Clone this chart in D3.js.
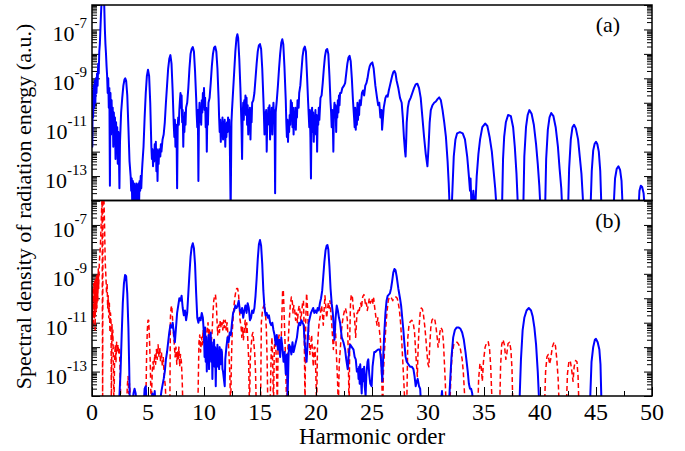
<!DOCTYPE html>
<html>
<head>
<meta charset="utf-8">
<script src="https://cdn.jsdelivr.net/npm/d3@7"></script>
<style>
  body { margin: 0; background: #fff; }
  text { font-family: "Liberation Serif", "Times New Roman", serif; fill: #000; }
</style>
</head>
<body>
<svg id="chart"></svg>
<script>
// Data: [harmonic order, log10(spectral density)]
// values at -14.5 / -5.5 mean the curve leaves the frame there

// panel (a), blue solid
const panelA = [
  [0.0,-9.6],[0.03,-11.8],[0.06,-9.5],[0.1,-10.6],[0.15,-9.3],[0.2,-10.2],[0.25,-9.1],[0.3,-10.0],[0.35,-9.0],[0.4,-9.6],[0.45,-8.8],[0.5,-9.3],
  [0.55,-8.4],[0.6,-8.8],[0.65,-7.9],[0.7,-7.6],[0.75,-7.0],[0.8,-6.4],[0.88,-5.6],[1.0,-5.5],[1.08,-5.8],[1.15,-7.0],[1.2,-7.6],[1.25,-8.0],
  [1.3,-8.5],[1.35,-8.9],[1.4,-9.6],[1.45,-9.0],[1.5,-10.2],[1.55,-9.4],[1.6,-13.4],[1.65,-9.6],[1.7,-11.3],[1.75,-9.9],[1.8,-10.9],[1.85,-10.2],
  [1.9,-11.8],[1.95,-10.4],[2.0,-11.2],[2.05,-10.6],[2.1,-12.3],[2.15,-10.8],[2.2,-11.6],[2.25,-11.0],[2.3,-12.5],[2.35,-11.2],[2.4,-12.0],[2.45,-13.5],
  [2.5,-11.6],[2.55,-11.0],[2.6,-10.4],[2.7,-9.8],[2.8,-9.3],[2.9,-9.05],[2.97,-9.0],[3.05,-9.1],[3.15,-9.7],[3.25,-11.0],[3.35,-12.4],[3.45,-13.0],
  [3.5,-13.6],[3.55,-13.1],[3.6,-14.3],[3.65,-13.2],[3.7,-13.8],[3.75,-13.3],[3.8,-14.5],[3.85,-13.4],[3.9,-13.9],[3.95,-13.3],[4.0,-14.4],[4.05,-13.4],
  [4.1,-13.8],[4.15,-13.3],[4.2,-14.2],[4.25,-13.2],[4.3,-13.6],[4.35,-13.0],[4.4,-13.5],[4.45,-12.9],[4.5,-12.5],[4.6,-11.8],[4.7,-10.6],[4.8,-9.6],
  [4.9,-8.9],[5.0,-8.65],[5.1,-8.9],[5.2,-10.0],[5.3,-11.8],[5.35,-12.3],[5.4,-11.9],[5.45,-12.6],[5.5,-12.0],[5.55,-12.4],[5.6,-11.7],[5.65,-12.2],
  [5.7,-11.6],[5.75,-12.8],[5.8,-11.9],[5.85,-13.2],[5.9,-12.0],[5.95,-12.5],[6.0,-11.9],[6.1,-12.2],[6.15,-11.7],[6.2,-12.0],[6.3,-11.5],[6.4,-11.3],
  [6.5,-10.8],[6.6,-10.0],[6.7,-9.3],[6.8,-8.6],[6.9,-8.2],[7.0,-8.05],[7.1,-8.4],[7.2,-9.5],[7.3,-10.9],[7.35,-11.4],[7.4,-10.7],[7.45,-11.8],
  [7.5,-10.9],[7.55,-11.3],[7.6,-13.5],[7.65,-11.0],[7.7,-10.6],[7.75,-10.9],[7.8,-10.3],[7.85,-9.9],[7.9,-9.6],[7.95,-10.2],[8.0,-9.7],[8.05,-10.8],
  [8.1,-10.3],[8.15,-11.8],[8.2,-10.6],[8.25,-11.2],[8.3,-10.4],[8.35,-10.9],[8.4,-10.2],[8.5,-10.0],[8.6,-9.4],[8.7,-8.6],[8.8,-8.0],[8.9,-7.8],
  [9.0,-7.72],[9.1,-7.9],[9.2,-8.7],[9.3,-9.8],[9.35,-10.5],[9.4,-11.0],[9.45,-10.3],[9.5,-13.2],[9.55,-10.6],[9.6,-10.0],[9.65,-10.8],[9.7,-10.2],
  [9.75,-10.9],[9.8,-9.9],[9.85,-10.4],[9.9,-9.6],[9.95,-10.1],[10.0,-9.4],[10.05,-10.3],[10.1,-9.8],[10.15,-11.0],[10.2,-10.2],[10.25,-12.0],[10.3,-10.4],
  [10.35,-10.9],[10.4,-10.0],[10.5,-9.8],[10.6,-9.2],[10.7,-8.5],[10.8,-8.0],[10.9,-7.75],[11.0,-7.7],[11.1,-7.9],[11.2,-8.6],[11.3,-9.8],[11.35,-10.6],
  [11.4,-11.2],[11.45,-10.7],[11.5,-11.6],[11.55,-10.9],[11.6,-11.3],[11.65,-10.6],[11.7,-11.5],[11.75,-10.8],[11.8,-11.2],[11.85,-10.7],[11.9,-11.8],[11.95,-10.9],
  [12.0,-11.4],[12.05,-10.8],[12.1,-11.2],[12.15,-10.6],[12.2,-11.0],[12.25,-10.7],[12.3,-11.5],[12.38,-14.5],[12.45,-10.8],[12.5,-10.3],[12.6,-9.5],[12.7,-8.7],
  [12.8,-7.9],[12.9,-7.35],[12.98,-7.2],[13.05,-7.35],[13.15,-8.2],[13.25,-9.4],[13.3,-10.2],[13.35,-11.0],[13.4,-12.3],[13.45,-10.6],[13.5,-10.0],[13.55,-10.7],
  [13.6,-9.9],[13.65,-10.4],[13.7,-9.7],[13.75,-10.5],[13.8,-9.8],[13.85,-10.9],[13.9,-10.1],[13.95,-11.3],[14.0,-10.3],[14.05,-10.8],[14.1,-10.2],[14.15,-11.5],
  [14.2,-10.4],[14.25,-10.8],[14.3,-10.0],[14.4,-9.9],[14.5,-9.6],[14.6,-9.0],[14.7,-8.4],[14.8,-7.9],[14.9,-7.65],[15.0,-7.6],[15.1,-7.8],[15.2,-8.6],
  [15.3,-9.8],[15.35,-10.5],[15.4,-11.3],[15.45,-10.4],[15.5,-11.0],[15.55,-10.3],[15.6,-12.0],[15.65,-10.5],[15.7,-10.9],[15.75,-10.2],[15.8,-10.7],[15.85,-10.1],
  [15.9,-11.5],[15.95,-10.4],[16.0,-10.8],[16.05,-10.2],[16.1,-11.3],[16.15,-10.5],[16.2,-10.0],[16.25,-10.6],[16.3,-10.3],[16.35,-13.7],[16.4,-10.4],[16.5,-9.9],
  [16.6,-9.3],[16.7,-8.6],[16.8,-8.0],[16.9,-7.55],[16.99,-7.4],[17.08,-7.6],[17.18,-8.5],[17.3,-9.9],[17.35,-10.8],[17.4,-11.4],[17.45,-10.7],[17.5,-11.6],
  [17.55,-10.9],[17.6,-11.2],[17.65,-10.5],[17.7,-10.9],[17.75,-9.9],[17.8,-10.6],[17.85,-10.0],[17.9,-11.0],[17.95,-10.2],[18.0,-11.3],[18.05,-10.4],[18.1,-10.8],
  [18.15,-10.2],[18.2,-11.1],[18.25,-10.3],[18.3,-10.6],[18.35,-9.9],[18.45,-10.2],[18.5,-9.6],[18.6,-9.3],[18.7,-8.7],[18.8,-8.1],[18.9,-7.8],[19.0,-7.7],
  [19.1,-7.9],[19.2,-8.9],[19.3,-10.0],[19.35,-10.5],[19.4,-11.0],[19.45,-10.3],[19.5,-11.4],[19.55,-13.1],[19.6,-10.6],[19.65,-10.2],[19.7,-11.2],[19.75,-10.4],
  [19.8,-11.6],[19.85,-10.7],[19.9,-11.0],[19.95,-10.3],[20.0,-11.3],[20.05,-10.5],[20.1,-12.0],[20.15,-10.6],[20.2,-10.9],[20.25,-10.2],[20.3,-10.7],[20.4,-9.8],
  [20.5,-9.7],[20.6,-9.2],[20.7,-8.6],[20.8,-8.1],[20.9,-7.85],[21.0,-7.8],[21.1,-8.0],[21.2,-8.9],[21.3,-10.0],[21.35,-10.4],[21.4,-11.0],[21.45,-10.3],
  [21.5,-10.8],[21.55,-12.0],[21.6,-10.4],[21.65,-10.0],[21.7,-10.6],[21.75,-10.1],[21.8,-11.2],[21.85,-10.2],[21.9,-10.6],[21.95,-9.9],[22.0,-10.4],[22.05,-9.7],
  [22.1,-10.1],[22.15,-9.6],[22.25,-9.6],[22.35,-9.4],[22.5,-9.3],[22.6,-9.2],[22.7,-8.8],[22.8,-8.4],[22.9,-8.15],[23.0,-8.08],[23.1,-8.3],[23.2,-9.0],
  [23.3,-9.9],[23.4,-10.6],[23.45,-11.0],[23.5,-10.2],[23.55,-11.1],[23.6,-10.3],[23.65,-10.9],[23.7,-10.0],[23.75,-10.7],[23.8,-10.1],[23.85,-10.5],[23.9,-9.9],
  [24.0,-10.1],[24.1,-9.6],[24.2,-9.5],[24.3,-9.7],[24.4,-9.3],[24.5,-9.2],[24.6,-9.0],[24.7,-8.7],[24.8,-8.5],[24.9,-8.4],[25.03,-8.35],[25.15,-8.6],
  [25.3,-9.3],[25.45,-9.8],[25.55,-10.1],[25.65,-10.0],[25.75,-10.6],[25.85,-10.3],[25.9,-11.1],[25.95,-10.8],[26.05,-10.2],[26.2,-9.8],[26.3,-9.7],[26.4,-9.75],
  [26.5,-9.5],[26.6,-9.3],[26.7,-9.1],[26.8,-8.9],[26.9,-8.75],[27.0,-8.7],[27.1,-8.8],[27.2,-9.1],[27.35,-9.4],[27.5,-9.8],[27.65,-10.0],[27.75,-10.6],
  [27.85,-11.4],[27.95,-12.0],[28.0,-12.2],[28.05,-11.6],[28.1,-10.8],[28.2,-10.2],[28.3,-9.95],[28.45,-9.8],[28.6,-9.6],[28.75,-9.4],[28.9,-9.25],[29.05,-9.22],
  [29.2,-9.4],[29.35,-9.8],[29.5,-10.6],[29.65,-11.4],[29.8,-12.1],[29.95,-12.6],[30.05,-11.8],[30.15,-10.8],[30.25,-10.3],[30.4,-10.1],[30.55,-10.0],[30.7,-9.95],
  [30.85,-9.85],[31.0,-9.78],[31.15,-9.9],[31.3,-10.3],[31.45,-10.8],[31.6,-11.4],[31.75,-12.4],[31.85,-13.3],[31.95,-14.5],[32.1,-14.5],[32.3,-12.2],[32.45,-11.5],
  [32.6,-11.25],[32.85,-11.2],[33.1,-11.25],[33.3,-11.5],[33.5,-12.2],[33.65,-13.0],[33.75,-13.6],[33.8,-13.1],[33.9,-14.5],[34.05,-13.6],[34.2,-14.5],[34.35,-13.0],
  [34.5,-12.1],[34.65,-11.5],[34.85,-11.0],[35.1,-10.85],[35.3,-10.95],[35.5,-11.4],[35.7,-12.0],[35.9,-13.0],[36.0,-13.5],[36.15,-14.5],[36.6,-14.5],[36.7,-12.3],
  [36.8,-11.4],[36.95,-10.8],[37.15,-10.5],[37.4,-10.55],[37.6,-11.0],[37.75,-11.8],[37.9,-12.9],[38.05,-14.5],[38.5,-14.5],[38.6,-12.2],[38.75,-11.0],[38.9,-10.5],
  [39.05,-10.3],[39.25,-10.45],[39.45,-10.9],[39.65,-11.7],[39.8,-12.5],[39.94,-13.4],[40.06,-14.5],[40.45,-14.5],[40.55,-12.3],[40.7,-11.1],[40.85,-10.6],[41.0,-10.42],
  [41.2,-10.55],[41.4,-11.0],[41.6,-11.8],[41.75,-12.7],[41.9,-13.5],[42.0,-14.5],[42.5,-14.5],[42.6,-12.7],[42.75,-11.5],[42.9,-11.0],[43.04,-10.9],[43.2,-11.05],
  [43.4,-11.5],[43.55,-12.2],[43.7,-12.9],[43.9,-14.5],[44.5,-14.5],[44.62,-12.8],[44.75,-11.95],[44.88,-11.68],[45.0,-11.6],[45.12,-11.7],[45.25,-12.0],[45.38,-12.8],
  [45.5,-14.5],[46.55,-14.5],[46.7,-13.1],[46.85,-12.7],[47.0,-12.6],[47.15,-12.75],[47.28,-13.2],[47.4,-14.5],[48.78,-14.5],[48.88,-13.6],[49.0,-13.4],[49.12,-13.45],
  [49.25,-13.7],[49.37,-14.5],[50.0,-14.5]
];

// panel (b), blue solid
const panelBBlue = [
  [2.4,-14.5],[2.55,-13.0],[2.65,-11.5],[2.75,-10.2],[2.85,-9.4],[2.95,-9.05],[3.05,-9.1],[3.15,-9.8],[3.25,-11.2],[3.32,-12.8],[3.38,-14.5],[3.6,-14.5],
  [3.7,-13.9],[3.8,-13.7],[3.9,-13.9],[4.0,-14.5],[4.6,-14.5],[4.7,-13.7],[4.8,-13.6],[4.9,-14.5],[5.2,-14.5],[5.4,-13.9],[5.5,-14.5],[5.6,-13.8],
  [5.7,-14.5],[6.0,-14.5],[6.2,-13.8],[6.4,-13.3],[6.5,-13.0],[6.6,-12.5],[6.7,-12.2],[6.8,-11.8],[6.9,-11.4],[7.0,-11.1],[7.1,-11.2],[7.2,-11.0],
  [7.3,-11.4],[7.4,-11.8],[7.5,-11.2],[7.6,-10.6],[7.7,-10.3],[7.8,-10.0],[7.9,-10.1],[8.0,-9.9],[8.1,-10.4],[8.2,-10.7],[8.3,-10.5],[8.4,-10.9],
  [8.5,-10.6],[8.6,-9.8],[8.7,-9.0],[8.8,-8.3],[8.9,-7.9],[9.0,-7.75],[9.1,-7.95],[9.2,-8.6],[9.3,-9.8],[9.4,-10.8],[9.5,-11.0],[9.6,-10.8],
  [9.7,-10.9],[9.8,-10.6],[9.9,-10.8],[10.0,-11.5],[10.05,-12.4],[10.1,-11.2],[10.15,-12.6],[10.2,-11.6],[10.25,-13.0],[10.3,-11.8],[10.35,-12.3],[10.4,-11.5],
  [10.45,-12.9],[10.5,-11.7],[10.55,-12.2],[10.6,-11.4],[10.65,-12.6],[10.7,-11.8],[10.75,-13.3],[10.8,-12.0],[10.85,-12.5],[10.9,-11.7],[10.95,-12.8],[11.0,-12.0],
  [11.05,-13.6],[11.1,-12.1],[11.15,-12.6],[11.2,-11.9],[11.25,-12.8],[11.3,-12.3],[11.35,-12.9],[11.4,-12.0],[11.45,-12.6],[11.5,-12.7],[11.55,-12.1],[11.6,-12.2],[11.65,-12.9],[11.7,-13.0],[11.8,-13.4],[11.85,-13.6],[11.9,-12.5],
  [12.0,-12.0],[12.1,-11.6],[12.2,-11.8],[12.3,-11.4],[12.4,-11.5],[12.5,-11.0],[12.6,-10.6],[12.7,-10.5],[12.8,-10.3],[12.9,-10.4],[13.0,-10.3],[13.1,-10.1],
  [13.2,-10.5],[13.3,-10.6],[13.4,-10.4],[13.5,-10.8],[13.6,-10.5],[13.7,-10.3],[13.8,-10.6],[13.9,-10.2],[14.0,-10.4],[14.1,-10.9],[14.2,-10.8],[14.3,-10.5],
  [14.4,-10.6],[14.5,-10.4],[14.6,-9.9],[14.7,-9.2],[14.8,-8.4],[14.9,-7.8],[15.0,-7.62],[15.1,-7.85],[15.2,-8.6],[15.3,-9.7],[15.4,-10.4],[15.5,-10.7],
  [15.6,-10.6],[15.7,-10.8],[15.8,-10.7],[15.9,-11.0],[16.0,-11.1],[16.1,-11.0],[16.2,-11.3],[16.3,-11.5],[16.4,-11.9],[16.5,-11.5],[16.6,-12.1],[16.7,-11.7],
  [16.8,-12.4],[16.9,-11.6],[17.0,-12.0],[17.1,-12.6],[17.2,-12.2],[17.3,-13.1],[17.4,-12.3],[17.47,-14.0],[17.55,-12.4],[17.6,-11.9],[17.7,-12.0],[17.8,-12.3],
  [17.9,-11.8],[18.0,-12.2],[18.1,-12.0],[18.2,-11.8],[18.3,-11.6],[18.4,-11.2],[18.5,-11.0],[18.6,-11.1],[18.7,-10.9],[18.8,-11.0],[18.9,-11.1],[19.0,-11.9],
  [19.1,-12.3],[19.16,-12.6],[19.25,-11.8],[19.35,-11.0],[19.45,-10.8],[19.55,-10.6],[19.65,-10.5],[19.75,-10.4],[19.85,-10.6],[19.95,-10.5],[20.05,-10.6],[20.15,-10.4],
  [20.25,-10.5],[20.35,-10.2],[20.45,-10.0],[20.55,-9.7],[20.65,-9.1],[20.75,-8.5],[20.85,-8.05],[20.95,-7.85],[21.02,-7.82],[21.1,-8.0],[21.2,-8.7],[21.3,-9.6],
  [21.4,-10.2],[21.5,-10.6],[21.6,-11.3],[21.65,-11.7],[21.75,-10.8],[21.85,-10.3],[21.95,-10.5],[22.05,-10.8],[22.15,-11.0],[22.3,-11.6],[22.45,-11.8],[22.6,-12.1],
  [22.7,-12.5],[22.83,-12.9],[22.95,-12.2],[23.05,-11.9],[23.2,-12.0],[23.35,-12.1],[23.45,-12.4],[23.55,-12.5],[23.65,-13.0],[23.75,-12.9],[23.8,-13.3],[23.85,-12.8],
  [23.9,-13.5],[23.95,-12.7],[24.0,-13.2],[24.08,-13.9],[24.15,-12.9],[24.2,-13.4],[24.3,-12.8],[24.35,-13.6],[24.43,-14.0],[24.5,-13.1],[24.6,-12.6],[24.67,-12.5],
  [24.75,-13.1],[24.85,-13.5],[24.97,-13.6],[25.05,-12.8],[25.2,-12.2],[25.3,-12.2],[25.4,-12.15],[25.55,-12.1],[25.7,-12.1],[25.8,-12.5],[25.92,-13.4],[26.0,-12.4],
  [26.1,-11.4],[26.2,-10.6],[26.3,-10.1],[26.4,-9.9],[26.5,-9.85],[26.6,-9.8],[26.7,-9.6],[26.8,-9.3],[26.9,-8.95],[27.0,-8.8],[27.1,-8.85],[27.2,-9.1],
  [27.35,-9.6],[27.5,-10.0],[27.6,-10.3],[27.7,-10.8],[27.8,-11.3],[27.9,-11.9],[28.0,-12.4],[28.1,-12.6],[28.25,-12.7],[28.4,-12.8],[28.55,-12.8],[28.7,-12.9],
  [28.8,-13.2],[28.9,-13.6],[29.0,-13.4],[29.08,-13.3],[29.2,-13.6],[29.3,-13.7],[29.4,-14.5],[31.1,-14.5],[31.25,-13.8],[31.35,-14.5],[31.85,-14.5],[32.0,-13.2],
  [32.1,-12.4],[32.25,-11.6],[32.4,-11.3],[32.55,-11.2],[32.75,-11.2],[32.9,-11.25],[33.05,-11.4],[33.2,-11.7],[33.35,-12.2],[33.45,-12.6],[33.55,-13.0],[33.65,-13.5],
  [33.75,-13.7],[33.85,-13.7],[33.95,-13.9],[34.05,-14.5],[38.15,-14.5],[38.3,-12.5],[38.45,-11.3],[38.6,-10.8],[38.8,-10.5],[39.0,-10.4],[39.2,-10.5],[39.35,-10.75],
  [39.5,-11.2],[39.65,-11.9],[39.8,-13.0],[39.95,-14.5],[44.45,-14.5],[44.6,-12.6],[44.75,-12.0],[44.9,-11.7],[45.0,-11.66],[45.15,-11.8],[45.3,-12.1],[45.4,-12.7],
  [45.5,-14.5]
];

// panel (b), red dashed
const panelBRed = [
  [0.0,-9.7],[0.04,-11.2],[0.08,-9.5],[0.12,-11.0],[0.16,-9.4],[0.2,-10.8],[0.24,-9.3],[0.28,-11.3],[0.32,-9.2],[0.36,-10.6],[0.4,-9.1],[0.44,-10.4],
  [0.48,-9.0],[0.52,-10.1],[0.56,-8.8],[0.6,-9.6],[0.65,-8.6],[0.7,-8.2],[0.75,-7.9],[0.8,-7.2],[0.85,-6.5],[0.9,-5.8],[0.95,-14.5],[0.98,-5.8],
  [1.05,-5.6],[1.12,-7.0],[1.18,-8.5],
  [1.25,-9.2],[1.3,-9.8],[1.35,-9.4],[1.4,-10.4],[1.45,-9.9],[1.5,-10.8],[1.55,-10.2],[1.6,-11.4],[1.65,-10.6],[1.7,-11.0],[1.73,-14.5],[1.78,-11.0],
  [1.82,-11.7],[1.86,-11.3],[1.9,-12.3],[1.96,-14.5],[2.02,-12.4],[2.08,-11.9],[2.14,-12.6],[2.2,-11.8],[2.26,-12.2],[2.32,-11.9],[2.38,-12.3],[2.44,-12.0],
  [2.5,-12.8],[2.58,-14.5],[3.1,-14.5],[3.15,-13.6],[3.22,-13.2],[3.28,-13.9],[3.35,-13.5],[3.45,-14.2],[3.55,-14.5],[4.8,-14.5],[4.88,-12.2],[4.94,-11.3],
  [5.0,-10.9],[5.06,-10.9],[5.12,-11.5],[5.2,-12.6],[5.28,-14.5],[5.38,-13.0],[5.45,-12.6],[5.52,-12.9],[5.6,-12.3],[5.68,-12.7],[5.75,-12.1],[5.82,-12.5],
  [5.9,-11.9],[5.98,-12.4],[6.05,-12.0],[6.12,-12.6],[6.2,-12.2],[6.28,-12.8],[6.36,-12.4],[6.45,-13.2],[6.55,-13.6],[6.62,-14.5],[6.95,-14.5],[7.0,-10.8],
  [7.06,-10.4],[7.12,-10.3],[7.2,-10.9],[7.28,-11.5],[7.35,-11.9],[7.42,-12.4],[7.5,-12.0],[7.57,-12.7],[7.64,-12.2],[7.7,-12.5],[7.76,-12.0],[7.83,-12.8],
  [7.9,-12.3],[7.98,-12.6],[8.05,-13.3],[8.12,-14.5],[9.45,-14.5],[9.55,-11.8],[9.62,-11.5],[9.7,-12.2],[9.78,-11.6],[9.85,-11.9],[9.92,-11.3],[10.0,-11.9],
  [10.08,-11.4],[10.15,-12.0],[10.22,-11.5],[10.3,-11.2],[10.36,-11.0],[10.43,-11.7],[10.5,-11.3],[10.58,-12.1],[10.65,-11.8],[10.72,-11.4],[10.8,-10.6],[10.87,-10.1],
  [10.95,-9.9],[11.02,-9.85],[11.1,-10.2],[11.16,-10.9],[11.22,-11.5],[11.3,-11.1],[11.38,-11.4],[11.45,-10.9],[11.52,-11.2],[11.6,-11.0],[11.68,-11.3],[11.75,-10.9],
  [11.82,-11.2],[11.9,-10.9],[11.98,-11.3],[12.06,-11.0],[12.14,-11.5],[12.22,-12.2],[12.3,-13.0],[12.38,-14.5],[12.45,-12.5],[12.52,-11.4],[12.6,-10.8],[12.68,-10.3],
  [12.76,-9.95],[12.85,-9.7],[12.92,-9.6],[13.0,-9.6],[13.08,-9.8],[13.15,-10.3],[13.22,-10.9],[13.3,-11.1],[13.38,-11.6],[13.45,-11.2],[13.52,-11.7],[13.6,-11.3],
  [13.68,-10.9],[13.75,-11.4],[13.82,-11.0],[13.9,-11.6],[13.98,-12.4],[14.06,-14.5],[14.14,-12.4],[14.22,-11.9],[14.3,-11.5],[14.37,-11.4],[14.44,-11.8],[14.52,-12.2],
  [14.6,-13.0],[14.67,-14.5],[15.05,-14.5],[15.12,-11.0],[15.2,-10.6],[15.27,-10.4],[15.35,-10.3],[15.42,-10.25],[15.5,-10.7],[15.57,-11.3],[15.64,-12.6],[15.7,-14.5],
  [15.9,-14.5],[16.0,-12.2],[16.07,-11.6],[16.14,-12.8],[16.2,-14.5],[16.28,-12.0],[16.37,-11.6],[16.45,-12.4],[16.55,-14.5],[16.62,-11.8],[16.7,-11.5],[16.8,-11.9],
  [16.87,-12.1],[16.95,-10.8],[17.02,-9.7],[17.08,-9.65],[17.14,-10.4],[17.2,-11.3],[17.28,-12.5],[17.38,-14.5],[17.5,-12.0],[17.6,-11.0],[17.7,-10.3],[17.8,-9.95],
  [17.88,-10.1],[17.95,-10.6],[18.02,-10.3],[18.1,-10.5],[18.18,-10.9],[18.26,-10.6],[18.34,-11.0],[18.42,-10.5],[18.5,-10.3],[18.57,-10.5],[18.64,-10.9],[18.72,-10.6],
  [18.8,-10.2],[18.88,-10.1],[18.95,-11.4],[19.02,-14.5],[19.08,-11.0],[19.16,-9.8],[19.23,-10.3],[19.31,-11.1],[19.38,-11.7],[19.46,-12.3],[19.53,-11.9],[19.61,-11.5],
  [19.68,-12.2],[19.76,-12.8],[19.84,-12.0],[19.91,-12.0],[19.98,-13.0],[20.06,-14.5],[20.13,-12.0],[20.21,-11.4],[20.28,-11.0],[20.36,-10.8],[20.43,-10.5],[20.5,-10.3],
  [20.58,-10.7],[20.65,-11.1],[20.72,-10.5],[20.8,-9.9],[20.87,-10.3],[20.95,-10.8],[21.02,-10.5],[21.1,-10.2],[21.18,-10.4],[21.25,-10.1],[21.32,-10.6],[21.4,-11.0],
  [21.48,-11.6],[21.55,-12.1],[21.62,-11.5],[21.7,-11.0],[21.77,-11.6],[21.84,-12.5],[21.92,-13.3],[21.99,-14.5],[22.08,-12.6],[22.17,-12.1],[22.26,-11.4],[22.35,-11.0],
  [22.45,-10.7],[22.55,-10.5],[22.63,-10.4],[22.72,-10.6],[22.8,-10.9],[22.88,-12.2],[22.95,-14.5],[23.02,-11.5],[23.08,-10.2],[23.14,-9.9],[23.2,-9.85],[23.26,-10.0],
  [23.33,-10.4],[23.42,-10.7],[23.48,-11.1],[23.54,-11.6],[23.6,-11.1],[23.66,-10.6],[23.72,-10.6],[23.8,-10.4],[23.87,-10.5],[23.93,-10.3],[24.0,-10.2],[24.07,-10.4],
  [24.14,-10.0],[24.21,-9.9],[24.28,-9.85],[24.35,-10.0],[24.42,-10.3],[24.5,-10.2],[24.58,-10.5],[24.66,-10.3],[24.76,-10.0],[24.85,-10.2],[24.93,-10.1],[25.0,-10.0],
  [25.08,-10.2],[25.15,-10.0],[25.22,-10.3],[25.3,-10.6],[25.38,-10.9],[25.45,-11.1],[25.52,-10.8],[25.6,-11.0],[25.68,-11.4],[25.75,-11.7],[25.82,-12.5],[25.9,-13.8],
  [25.96,-14.5],[26.02,-13.0],[26.1,-12.3],[26.18,-11.6],[26.26,-11.0],[26.35,-10.5],[26.45,-10.1],[26.55,-9.95],[26.65,-9.95],[26.75,-10.0],[26.85,-10.1],[26.95,-10.0],
  [27.05,-9.95],[27.15,-9.95],[27.25,-10.0],[27.35,-10.2],[27.45,-10.5],[27.55,-11.0],[27.65,-11.7],[27.75,-12.6],[27.85,-13.5],[27.95,-14.5],[28.1,-14.5],[28.2,-11.6],
  [28.3,-11.1],[28.42,-10.95],[28.55,-10.9],[28.68,-11.0],[28.8,-11.4],[28.9,-12.2],[29.0,-12.9],[29.05,-13.2],[29.1,-12.3],[29.2,-11.2],[29.3,-10.6],[29.4,-10.4],
  [29.5,-10.45],[29.6,-10.7],[29.7,-11.1],[29.8,-11.6],[29.9,-12.2],[30.0,-12.7],[30.08,-12.8],[30.15,-12.0],[30.25,-11.2],[30.35,-10.9],[30.5,-10.8],[30.62,-10.9],
  [30.72,-11.2],[30.82,-11.6],[30.9,-12.0],[30.98,-11.8],[31.06,-11.4],[31.15,-11.2],[31.28,-11.3],[31.38,-11.8],[31.46,-12.6],[31.55,-13.5],[31.62,-14.5],[31.95,-14.5],
  [32.05,-13.1],[32.15,-12.3],[32.3,-11.9],[32.45,-11.8],[32.6,-11.8],[32.75,-11.9],[32.9,-12.1],[33.05,-12.5],[33.15,-13.0],[33.25,-13.8],[33.32,-14.5],[34.45,-14.5],
  [34.52,-13.3],[34.64,-12.67],[34.75,-12.8],[34.85,-13.4],[34.95,-12.6],[35.1,-12.0],[35.25,-11.8],[35.38,-11.78],[35.5,-12.1],[35.6,-12.8],[35.68,-13.8],[35.74,-14.5],
  [36.4,-14.5],[36.48,-12.8],[36.58,-11.9],[36.7,-11.7],[36.82,-11.9],[36.95,-12.5],[37.03,-12.3],[37.15,-11.85],[37.28,-11.8],[37.4,-12.1],[37.5,-12.9],[37.58,-14.5],
  [40.4,-14.5],[40.5,-13.0],[40.62,-12.4],[40.74,-12.3],[40.85,-12.7],[40.95,-12.5],[41.1,-12.0],[41.25,-11.8],[41.38,-11.95],[41.5,-12.5],[41.62,-13.3],[41.72,-14.5],
  [42.35,-14.5],[42.45,-13.1],[42.58,-12.6],[42.7,-12.55],[42.82,-12.9],[42.95,-13.4],[43.05,-12.8],[43.18,-12.55],[43.3,-12.6],[43.4,-13.2],[43.48,-14.5]
];

const xTickValues = [0, 5, 10, 15, 20, 25, 30, 35, 40, 45, 50];
const yLabelExponents = [-7, -9, -11, -13];
const panelLabels = ["(a)", "(b)"];

// Set up SVG canvas
const width = 685, height = 451;
const margin = { left: 92, right: 33, top: 5 };
const panelHeight = 195.5;

const svg = d3.select("#chart")
              .attr("width", width)
              .attr("height", height);

const x = d3.scaleLinear()
            .domain([0, 50])
            .range([margin.left, width - margin.right]);

// tick positions of the log axis: every decade, plus 2..9 in between
const decades = d3.range(-14, -5);
const minorTicks = [];
decades.slice(0, -1).forEach(e => d3.range(2, 10).forEach(m => minorTicks.push(m * Math.pow(10, e))));
const majorTicks = decades.map(e => Math.pow(10, e));

const line = y => d3.line()
                    .x(d => x(d[0]))
                    .y(d => y(Math.pow(10, d[1])));

function drawPanel(index, series) {
    const top = margin.top + index * panelHeight;
    const y = d3.scaleLog()
                .domain([1e-14, 1e-6])
                .range([top + panelHeight, top]);

    const g = svg.append("g");

    // clip region for the curves
    svg.append("clipPath")
       .attr("id", "clip" + index)
       .append("rect")
       .attr("x", x(0))
       .attr("y", top)
       .attr("width", x(50) - x(0))
       .attr("height", panelHeight);

    // Left and right tick marks, pointing inward
    [[d3.axisLeft, margin.left], [d3.axisRight, width - margin.right]].forEach(([axisFn, pos]) => {
        g.append("g")
         .attr("transform", `translate(${pos},0)`)
         .call(axisFn(y).tickValues(majorTicks).tickSize(-8).tickFormat(""))
         .call(a => a.select(".domain").remove());
        g.append("g")
         .attr("transform", `translate(${pos},0)`)
         .call(axisFn(y).tickValues(minorTicks).tickSize(-5).tickFormat(""))
         .call(a => a.select(".domain").remove());
    });

    // y tick labels, 10 with superscript exponent
    g.selectAll(".ylab")
     .data(yLabelExponents)
     .join("text")
     .attr("x", margin.left - 5)
     .attr("y", d => y(Math.pow(10, d)) + 12)
     .attr("text-anchor", "end")
     .style("font-size", "22px")
     .text("10")
     .append("tspan")
     .attr("dy", -13)
     .style("font-size", "15px")
     .text(d => d);

    // curves
    series.forEach(s => {
        g.append("path")
         .datum(s.data)
         .attr("clip-path", `url(#clip${index})`)
         .attr("fill", "none")
         .attr("stroke", s.color)
         .attr("stroke-width", s.width)
         .attr("stroke-dasharray", s.dash)
         .attr("stroke-linejoin", "round")
         .attr("d", line(y));
    });

    // frame
    g.append("rect")
     .attr("x", x(0))
     .attr("y", top)
     .attr("width", x(50) - x(0))
     .attr("height", panelHeight)
     .attr("fill", "none")
     .attr("stroke", "black")
     .attr("stroke-width", 1.5);

    // panel label
    g.append("text")
     .attr("x", 608)
     .attr("y", top + 27)
     .attr("text-anchor", "middle")
     .style("font-size", "22px")
     .text(panelLabels[index]);

    return y;
}

drawPanel(0, [{ data: panelA, color: "#0000ff", width: 2, dash: null }]);
drawPanel(1, [
    { data: panelBRed, color: "#ff0000", width: 1.5, dash: "5,3" },
    { data: panelBBlue, color: "#0000ff", width: 2, dash: null }
]);

// Bottom x axis with inward ticks
const bottom = margin.top + 2 * panelHeight;
svg.append("g")
   .attr("transform", `translate(0,${bottom})`)
   .call(d3.axisBottom(x).tickValues(xTickValues).tickSize(-9).tickFormat(""))
   .call(a => a.select(".domain").remove());
svg.append("g")
   .attr("transform", `translate(0,${bottom})`)
   .call(d3.axisBottom(x).tickValues(xTickValues.slice(0, -1).map(v => v + 2.5)).tickSize(-5).tickFormat(""))
   .call(a => a.select(".domain").remove());

svg.selectAll(".xlab")
   .data(xTickValues)
   .join("text")
   .attr("x", d => x(d))
   .attr("y", bottom + 24)
   .attr("text-anchor", "middle")
   .style("font-size", "24px")
   .text(d => d);

// Axis titles
svg.append("text")
   .attr("x", (x(0) + x(50)) / 2)
   .attr("y", 444)
   .attr("text-anchor", "middle")
   .style("font-size", "23px")
   .text("Harmonic order");

svg.append("text")
   .attr("transform", `translate(31, ${margin.top + panelHeight + 6}) rotate(-90)`)
   .attr("text-anchor", "middle")
   .style("font-size", "22px")
   .text("Spectral density of radiation energy (a.u.)");
</script>
</body>
</html>
